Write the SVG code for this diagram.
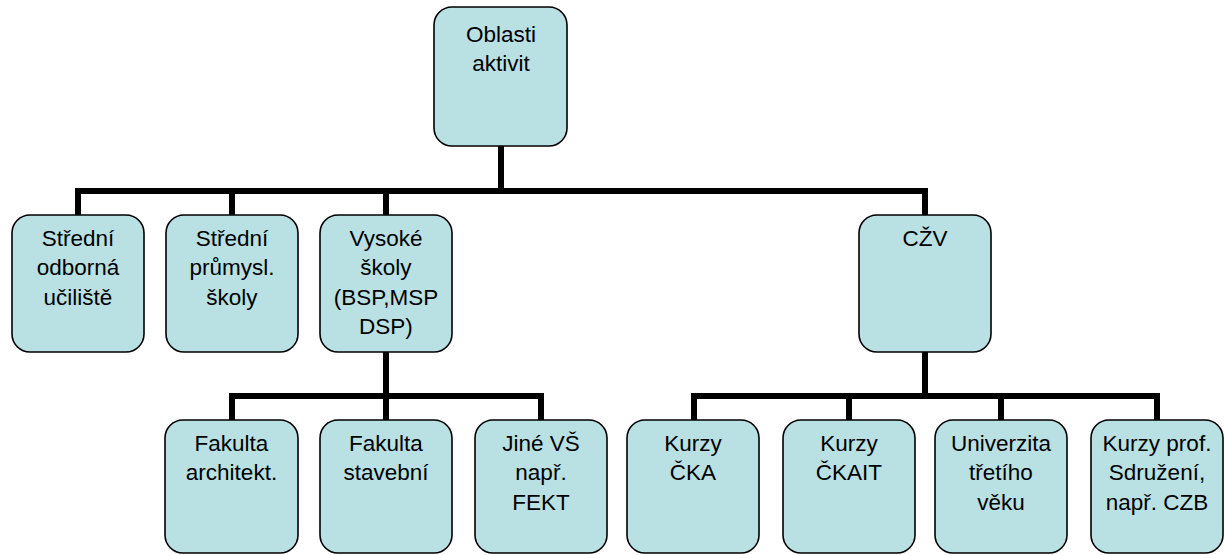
<svg xmlns="http://www.w3.org/2000/svg" width="1226" height="555" viewBox="0 0 1226 555">
<style>
.box{fill:#B9E0E3;stroke:#000;stroke-width:1.6}
.t{font-family:"Liberation Sans",Arial,sans-serif;font-size:22.5px;fill:#000;text-anchor:middle}
.c{fill:none;stroke:#000;stroke-width:6;stroke-linecap:butt;stroke-linejoin:miter}
</style>
<rect width="1226" height="555" fill="#fff"/>
<g id="connectors">
<path class="c" d="M501 146V191"/>
<path class="c" d="M78 215V191H925V215"/>
<path class="c" d="M232 191V215M386 191V215"/>
<path class="c" d="M386 352V396"/>
<path class="c" d="M232 420V396H541V420M386 396V420"/>
<path class="c" d="M925 352V396"/>
<path class="c" d="M694 420V396H1157V420M849 396V420M1001 396V420"/>
</g>
<g id="n-oblasti"><rect class="box" x="434" y="7" width="133" height="139" rx="18"/><text class="t" x="501"><tspan x="501" y="41.5">Oblasti</tspan><tspan x="501" y="71">aktivit</tspan></text></g>
<g id="n-sou"><rect class="box" x="12" y="215" width="132" height="137" rx="18"/><text class="t"><tspan x="78" y="245.5">Střední</tspan><tspan x="78" y="275">odborná</tspan><tspan x="78" y="304.5">učiliště</tspan></text></g>
<g id="n-sps"><rect class="box" x="166" y="215" width="132" height="137" rx="18"/><text class="t"><tspan x="232" y="245.5">Střední</tspan><tspan x="232" y="275">průmysl.</tspan><tspan x="232" y="304.5">školy</tspan></text></g>
<g id="n-vs"><rect class="box" x="320" y="215" width="132" height="137" rx="18"/><text class="t"><tspan x="386" y="245.5">Vysoké</tspan><tspan x="386" y="275">školy</tspan><tspan x="386" y="304.5">(BSP,MSP</tspan><tspan x="386" y="334">DSP)</tspan></text></g>
<g id="n-czv"><rect class="box" x="859" y="215" width="132" height="137" rx="18"/><text class="t"><tspan x="925" y="246">CŽV</tspan></text></g>
<g id="n-fa"><rect class="box" x="165" y="420" width="133" height="133" rx="18"/><text class="t"><tspan x="231.5" y="450.5">Fakulta</tspan><tspan x="231.5" y="480">architekt.</tspan></text></g>
<g id="n-fs"><rect class="box" x="320" y="420" width="132" height="133" rx="18"/><text class="t"><tspan x="386" y="450.5">Fakulta</tspan><tspan x="386" y="480">stavební</tspan></text></g>
<g id="n-jine"><rect class="box" x="475" y="420" width="132" height="133" rx="18"/><text class="t"><tspan x="541" y="450.5">Jiné VŠ</tspan><tspan x="541" y="480">např.</tspan><tspan x="541" y="509.5">FEKT</tspan></text></g>
<g id="n-cka"><rect class="box" x="627" y="420" width="132" height="133" rx="18"/><text class="t"><tspan x="693" y="450.5">Kurzy</tspan><tspan x="693" y="480">ČKA</tspan></text></g>
<g id="n-ckait"><rect class="box" x="783" y="420" width="132" height="133" rx="18"/><text class="t"><tspan x="849" y="450.5">Kurzy</tspan><tspan x="849" y="480">ČKAIT</tspan></text></g>
<g id="n-u3v"><rect class="box" x="935" y="420" width="132" height="133" rx="18"/><text class="t"><tspan x="1001" y="450.5">Univerzita</tspan><tspan x="1001" y="480">třetího</tspan><tspan x="1001" y="509.5">věku</tspan></text></g>
<g id="n-prof"><rect class="box" x="1091" y="420" width="132" height="133" rx="18"/><text class="t"><tspan x="1157" y="450.5">Kurzy prof.</tspan><tspan x="1157" y="480">Sdružení,</tspan><tspan x="1157" y="509.5">např. CZB</tspan></text></g>
</svg>
